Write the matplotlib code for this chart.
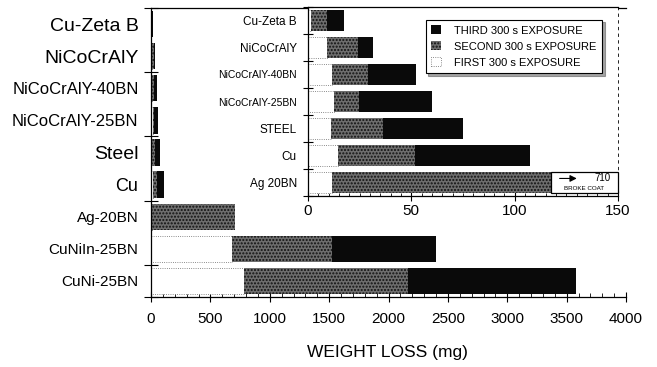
import matplotlib
matplotlib.use("Agg")
import matplotlib.pyplot as plt
import numpy as np
from matplotlib.patches import Rectangle
from matplotlib.ticker import MultipleLocator

plt.rcParams["font.family"] = "Liberation Sans"

# materiais (de cima para baixo)
main_labels = ["Cu-Zeta B", "NiCoCrAlY", "NiCoCrAlY-40BN", "NiCoCrAlY-25BN",
               "Steel", "Cu", "Ag-20BN", "CuNiIn-25BN", "CuNi-25BN"]
main_sizes = [14, 14, 12, 12, 14, 13, 11, 11, 11]
inset_labels = ["Cu-Zeta B", "NiCoCrAlY", "NiCoCrAlY-40BN", "NiCoCrAlY-25BN",
                "STEEL", "Cu", "Ag 20BN"]
inset_sizes = [8.5, 8.5, 7.5, 7.5, 8.5, 8.5, 8.5]

# perda de massa (mg) em cada exposicao de 300 s
first = [1.3, 9.4, 11.8, 12.7, 11.1, 14.4, 11.8, 680, 783]
second = [8.0, 14.6, 17.4, 11.8, 25.3, 37.4, 698.2, 842, 1379]
third = [8.3, 7.3, 23.0, 35.3, 38.7, 55.6, 0, 878, 1418]

main_ticks = [0, 500, 1000, 1500, 2000, 2500, 3000, 3500, 4000]
inset_ticks = [0, 50, 100, 150]
break_at = 117.4  # onde começa a caixa de "quebra" do Ag-20BN

first = np.array(first)
second = np.array(second)
third = np.array(third)

c_black = "#0a0a0a"
c_gray = "#6e6e6e"


def draw_bars(ax, n, h):
    y = np.arange(n)
    b1 = ax.barh(y, first[:n], height=h, color="white", edgecolor="#666666",
                 linewidth=0.6, linestyle=":", zorder=2)
    b2 = ax.barh(y, second[:n], left=first[:n], height=h, color=c_gray,
                 hatch=".....", edgecolor="#111111", linewidth=0, zorder=2)
    b3 = ax.barh(y, third[:n], left=first[:n] + second[:n], height=h,
                 color=c_black, edgecolor=c_black, linewidth=0, zorder=2)
    return b1, b2, b3


fig = plt.figure(figsize=(6.57, 3.67), dpi=100)

# grafico principal
ax = fig.add_axes([151 / 657, 1 - 297 / 367, 475 / 657, 289 / 367])
n = len(main_labels)
draw_bars(ax, n, 0.82)
ax.set_xlim(0, 4000)
ax.set_ylim(n - 0.5, -0.5)
ax.set_xticks(main_ticks)
ax.set_xticklabels([str(t) for t in main_ticks], fontsize=11)
ax.xaxis.set_minor_locator(MultipleLocator(100))
ax.tick_params(axis="x", which="major", direction="inout", length=7, width=0.8, pad=7)
ax.tick_params(axis="x", which="minor", direction="in", length=3, width=0.6)
ax.set_yticks([-0.5, 1.5, 3.5, 5.5, 7.5, 8.5])
ax.set_yticklabels([])
ax.tick_params(axis="y", which="major", direction="inout", length=10, width=0.8)
ax.set_yticks(np.arange(n), main_labels, minor=True)
ax.tick_params(axis="y", which="minor", length=0, pad=9)
for lab, fs in zip(ax.get_yticklabels(minor=True), main_sizes):
    lab.set_fontsize(fs)
ax.spines["right"].set_visible(False)
for s in ["top", "left", "bottom"]:
    ax.spines[s].set_linewidth(0.9)

fig.text(387 / 657, 1 - 353 / 367, "WEIGHT LOSS (mg)", ha="center", va="center",
         fontsize=12.5)

# detalhe (inset)
axi = fig.add_axes([308 / 657, 1 - 196 / 367, 310 / 657, 189 / 367])
ni = len(inset_labels)
b1, b2, b3 = draw_bars(axi, ni, 0.8)
axi.set_xlim(0, 150)
axi.set_ylim(ni - 0.5, -0.5)
axi.set_xticks(inset_ticks)
axi.set_xticklabels([str(t) for t in inset_ticks], fontsize=11)
axi.xaxis.set_minor_locator(MultipleLocator(5))
axi.tick_params(axis="x", which="major", direction="inout", length=7, width=0.8, pad=2)
axi.tick_params(axis="x", which="minor", direction="in", length=2.5, width=0.6)
axi.set_yticks(np.arange(ni + 1) - 0.5)
axi.set_yticklabels([])
axi.tick_params(axis="y", which="major", direction="inout", length=7, width=0.8)
axi.set_yticks(np.arange(ni), inset_labels, minor=True)
axi.tick_params(axis="y", which="minor", length=0, pad=8)
for lab, fs in zip(axi.get_yticklabels(minor=True), inset_sizes):
    lab.set_fontsize(fs)
axi.spines["right"].set_linestyle((0, (3, 5)))
axi.spines["right"].set_linewidth(0.6)
for s in ["top", "left", "bottom"]:
    axi.spines[s].set_linewidth(0.9)

# caixa de quebra do Ag 20BN
ag = ni - 1
axi.add_patch(Rectangle((break_at, ag - 0.4), 150 - break_at, 0.8, facecolor="white",
                        edgecolor="black", linewidth=0.9, zorder=4, clip_on=False))
axi.annotate("", xy=(break_at + 14, ag - 0.15), xytext=(break_at + 3, ag - 0.15),
             arrowprops=dict(arrowstyle="-|>", color="black", lw=0.8), zorder=5)
axi.text(break_at + 25, ag - 0.15, f"{first[ag] + second[ag] + third[ag]:.0f}",
         ha="center", va="center", fontsize=7, zorder=5)
axi.text(break_at + 16, ag + 0.22, "BROKE COAT", ha="center", va="center",
         fontsize=4.5, zorder=5)

# legenda
leg = fig.legend([b3, b2, b1],
                 ["THIRD 300 s EXPOSURE", "SECOND 300 s EXPOSURE", "FIRST 300 s EXPOSURE"],
                 loc="upper left", bbox_to_anchor=(420 / 657, 1 - 14 / 367),
                 fontsize=8, frameon=True, fancybox=False, shadow=True,
                 edgecolor="black", handlelength=0.9, handleheight=0.9,
                 borderpad=0.5, labelspacing=0.5, handletextpad=1.2)
leg.get_frame().set_linewidth(0.8)

fig.savefig("out.png", dpi=100)
